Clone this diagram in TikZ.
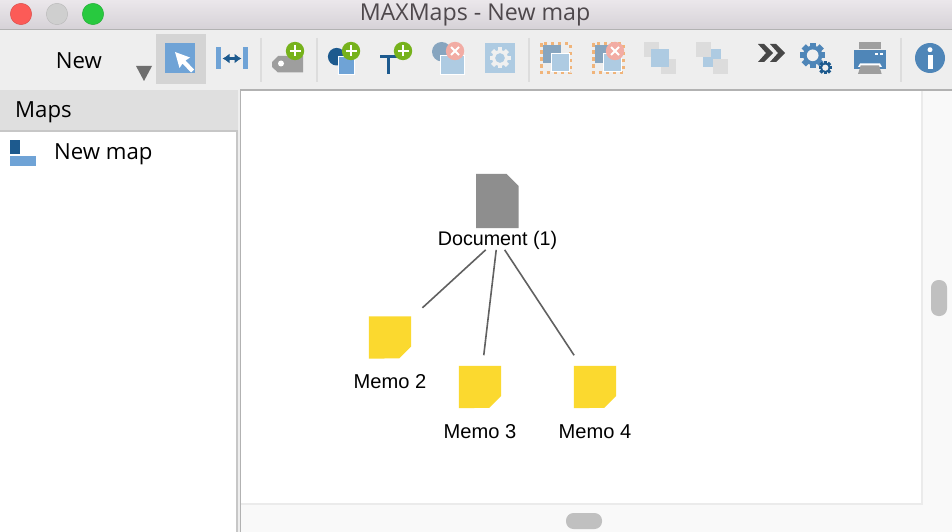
\documentclass[tikz,border=0pt]{standalone}
\usepackage{fontspec}
\usetikzlibrary{arrows.meta}
\setmainfont{Liberation Sans}
\newfontfamily\uifont{Open Sans}
\definecolor{dkblue}{HTML}{1D5A8E}
\definecolor{midblue}{HTML}{6FA3D6}
\definecolor{ltblue}{HTML}{AECBE2}
\definecolor{steel}{HTML}{4F86B8}
\definecolor{slate}{HTML}{87A5BF}
\definecolor{addgreen}{HTML}{76B21C}
\definecolor{delred}{HTML}{F2ACA4}
\definecolor{memoyellow}{HTML}{FBD92F}
\definecolor{docgray}{HTML}{8E8E8E}
\definecolor{sepgray}{HTML}{DDDDDD}
\definecolor{thumb}{HTML}{C0C0C0}
\definecolor{ghost}{HTML}{DCDCDC}
\definecolor{dashorange}{HTML}{F0B47A}
\definecolor{titletop}{HTML}{EBE7EB}
\definecolor{titlebot}{HTML}{D6D2D7}
\definecolor{lightred}{HTML}{FC5B57}
\definecolor{lightgreen}{HTML}{28C93F}
\definecolor{titletext}{HTML}{4E484C}
\tikzset{
  sep/.style={draw=sepgray,line width=1.6pt},
  ui/.style={font=\uifont\fontsize{22.2}{26}\selectfont,text=black,inner sep=0pt},
  dia/.style={font=\fontsize{20.1}{24}\selectfont,text=black,inner sep=0pt},
  link/.style={draw=black!62,line width=1.6pt},
  iconbox/.style={minimum width=42pt,minimum height=42pt,inner sep=0pt},
  whiteedge/.style={draw=white,line width=0.7pt},
  dashbox/.style={draw=dashorange,line width=3pt,dash pattern=on 3.4pt off 3.6pt},
}
\newcommand{\addbadge}[2]{%
  \fill[addgreen] (#1,#2) circle[radius=9.2pt];
  \draw[white,line width=2pt] (#1-5.5,#2) -- (#1+5.5,#2) (#1,#2-5.5) -- (#1,#2+5.5);}
\newcommand{\delbadge}[2]{%
  \fill[delred] (#1,#2) circle[radius=9.2pt];
  \draw[white,line width=2pt] (#1-4,#2-4) -- (#1+4,#2+4) (#1-4,#2+4) -- (#1+4,#2-4);}
\newcommand{\gearshape}[6]{% x y outer teeth-half-width colour holecolour
  \foreach \a in {0,45,...,315}{
    \fill[#5] (#1,#2) ++(\a:#3pt) ++(\a+90:#4pt) -- ++(\a+180:#3*0.4pt) -- ++(\a-90:2*#4pt) -- ++(\a:#3*0.4pt) -- cycle;}
  \fill[#5] (#1,#2) circle[radius=#3*0.76pt];
  \fill[#6] (#1,#2) circle[radius=#3*0.46pt];}
\newcommand{\memoicon}[3]{% name x y
  \node[iconbox] (#1) at (#2,#3) {};
  \fill[memoyellow] (#1.north west) -- (#1.north east) -- ++(0,-30pt) -- ++(-12pt,-12pt) -- (#1.south west) -- cycle;}
\begin{document}
\begin{tikzpicture}[x=1pt,y=-1pt]
\useasboundingbox (0,0) rectangle (952,532);
% window
\fill[white] (0,0) rectangle (952,532);
\shade[top color=titletop,bottom color=titlebot] (0,0) rectangle (952,29);
\fill[black!30] (0,28.6) rectangle (952,30);
\fill[black!6.5] (0,30) rectangle (952,90);
\node[font=\uifont\fontsize{23.2}{27}\selectfont,text=titletext,inner sep=0pt] (title) at (475,14.5) {MAXMaps - New map};
% traffic lights
\fill[lightred,draw=lightred!85!black] (21,14) circle[radius=10.7pt];
\fill[black!19,draw=black!28] (57,14) circle[radius=10.7pt];
\fill[lightgreen,draw=lightgreen!85!black] (93,14) circle[radius=10.7pt];
% left panel
\fill[black!12.5] (0,90) rectangle (238,130);
\fill[black!22] (0,130) rectangle (238,132);
\fill[black!22] (236,132) rectangle (238,532);
\fill[black!6.5] (238,90) rectangle (240,532);
\fill[black!30] (240,89.5) rectangle (952,91);
\fill[black!30] (240,91) rectangle (241,532);
\node[ui,anchor=west] (maps) at (15,112) {Maps};
\fill[dkblue] (10,140) rectangle (20,154);
\fill[midblue] (10,156) rectangle (36,166);
\node[ui,anchor=west] (newmap) at (54,154) {New map};
% scrollbars
\fill[black!2.5] (923,91) rectangle (952,532);
\fill[black!2.5] (241,505) rectangle (952,532);
\fill[black!8] (921,91) rectangle (923,505);
\fill[black!8] (241,503) rectangle (923,505);
\fill[thumb,rounded corners=7.5pt] (931,280) rectangle (947,316);
\fill[thumb,rounded corners=7.5pt] (566,513) rectangle (602,529);
% toolbar: New
\node[ui] (new) at (79,61) {New};
\fill[black!57] (136,66) -- (152,66) -- (144,81) -- cycle;
% select
\fill[black!17] (156,34) rectangle (206,84);
\fill[midblue] (165,43) rectangle (195,73);
\fill[white] (175,52) -- (190,57.5) -- (185.5,60.5) -- (194,69.5) -- (191,72.5) -- (182.5,63.5) -- (179.5,68) -- cycle;
% fit
\fill[midblue] (216,47) rectangle (221,69);
\fill[midblue] (243,47) rectangle (248,69);
\draw[dkblue,line width=3pt,{Latex[length=7pt,width=10pt]}-{Latex[length=7pt,width=10pt]}] (222.5,58.5) -- (241.5,58.5);
\draw[sep] (261,38) -- (261,82);
% tag
\fill[black!38] (278,56) -- (303,56) -- (303,72.5) -- (278,72.5) -- (272,67) -- (272,62) -- cycle;
\fill[white] (281,63.5) circle[radius=3pt];
\addbadge{295}{51}
\draw[sep] (317,38) -- (317,82);
% add shape
\fill[dkblue] (336.7,56.7) circle[radius=8.8pt];
\fill[midblue,whiteedge] (338,56) rectangle (354.7,74);
\addbadge{351}{51}
% add text
\fill[dkblue] (380,55) rectangle (397,58);
\fill[dkblue] (387,55) rectangle (390.3,74);
\addbadge{403}{51}
% delete shape
\fill[slate] (441.7,51.7) circle[radius=9.7pt];
\fill[ltblue,whiteedge] (440.7,55) rectangle (464,74);
\delbadge{455}{51}
% settings
\fill[ltblue] (485,43) rectangle (515,73);
\gearshape{500}{58}{10.5}{2.2}{black!6}{ltblue}
\draw[sep] (529,38) -- (529,82);
% group
\draw[dashbox] (541,43.5) rectangle (570.5,73);
\fill[slate] (543,45) rectangle (561,63.3);
\fill[ltblue,whiteedge] (551,53) rectangle (569,71);
% ungroup
\draw[dashbox] (593,43.5) rectangle (623,73);
\fill[slate] (595,45) rectangle (610,63.3);
\fill[ltblue,whiteedge] (603,53) rectangle (621,71);
\delbadge{615}{51}
% arrange 1
\fill[ghost] (644,42) rectangle (659,57);
\fill[ghost] (661,59) rectangle (676,74);
\fill[ltblue] (651,49) rectangle (669,67);
% arrange 2
\fill[ltblue] (711,49) rectangle (721,59);
\fill[ltblue] (703,57) rectangle (713,67);
\fill[ghost] (696,42) rectangle (711,57);
\fill[ghost] (713,59) rectangle (728,74);
% chevrons
\fill[black!72] (758,44) -- (764,44) -- (773,53) -- (764,62) -- (758,62) -- (766,53) -- cycle;
\fill[black!72] (770,44) -- (776,44) -- (785,53) -- (776,62) -- (770,62) -- (778,53) -- cycle;
% gears
\gearshape{812.7}{55.3}{12.7}{3}{steel}{black!6}
\gearshape{825.3}{67.7}{6.8}{1.6}{dkblue}{black!6}
% printer
\fill[black!38] (859,42) rectangle (880.7,49.3);
\fill[steel] (854,50) rectangle (886,69);
\fill[white] (874.5,52.8) rectangle (877.5,55.5);
\fill[white] (879.5,52.8) rectangle (882.5,55.5);
\fill[white] (860,63.5) -- (880,63.5) -- (882,67) -- (858,67) -- cycle;
\fill[black!38] (860.7,65.3) -- (879,65.3) -- (881.7,74) -- (858,74) -- cycle;
\draw[sep] (901,38) -- (901,82);
% info
\fill[steel] (930,58) circle[radius=15pt];
\fill[white] (930,49.7) circle[radius=2.5pt];
\fill[white] (927.5,55) rectangle (932.5,69.5);
% diagram
\node[iconbox,minimum height=54pt] (doc) at (497.3,201) {};
\fill[docgray] (doc.north west) -- ++(30.4pt,0) -- (doc.east |- 0,186) -- (doc.south east) -- (doc.south west) -- cycle;
\node[dia,font=\fontsize{19.7}{24}\selectfont] (doclabel) at (497.5,240) {Document (1)};
\memoicon{m2}{390}{337.5}
\memoicon{m3}{480}{387}
\memoicon{m4}{595}{387}
\node[dia] (m2label) at (390,382) {Memo 2};
\node[dia] (m3label) at (480,432) {Memo 3};
\node[dia] (m4label) at (595,432) {Memo 4};
\coordinate (hub) at (497.5,239);
\draw[link,shorten <=16pt,shorten >=44pt] (hub) -- (m2.center);
\draw[link,shorten <=11pt,shorten >=32pt] (hub) -- (m3.center);
\draw[link,shorten <=13pt,shorten >=38pt] (hub) -- (m4.center);
\end{tikzpicture}
\end{document}
